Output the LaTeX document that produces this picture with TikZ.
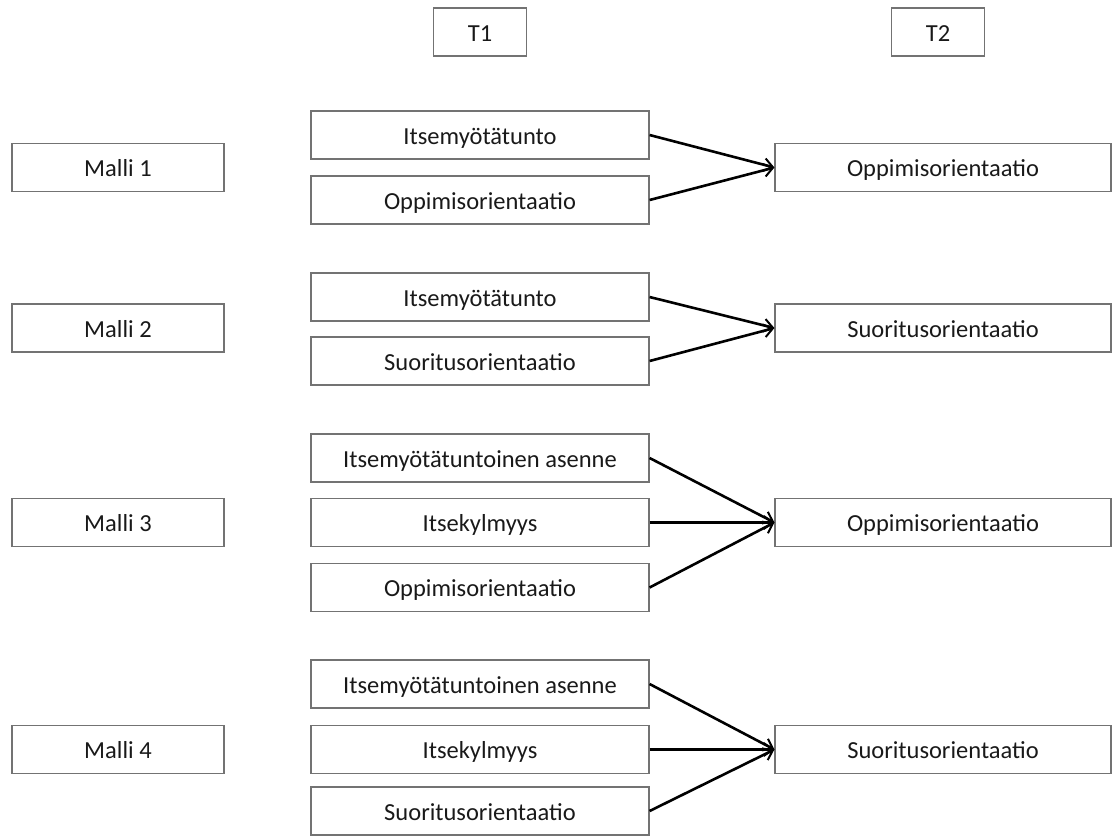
\documentclass[tikz,border=0pt]{standalone}
\usepackage{fontspec}
\setmainfont{Carlito}
\usetikzlibrary{arrows.meta}

\begin{document}
\begin{tikzpicture}[x=1pt, y=-1pt,
    box/.style={draw=black!55, line width=1.2pt, rectangle, minimum height=48pt, inner sep=0pt, align=center, font=\fontsize{24.5}{28}\selectfont, text=black!90, text height=19pt, text depth=1pt},
    model/.style={box, minimum width=212pt},
    pred/.style={box, minimum width=338pt},
    outc/.style={box, minimum width=336pt},
    time/.style={box, minimum width=93pt},
    arrow/.style={-{Straight Barb[length=9pt, width=13pt, line width=2pt]}, line width=2.6pt, black}
]
\useasboundingbox (0,0) rectangle (1113,836);

% time points
\node[time] (t1) at (480,32) {T1};
\node[time] (t2) at (938,32) {T2};

% Malli 1
\node[model] (m1) at (118,167.5) {Malli 1};
\node[pred] (m1a) at (480,135) {Itsemyötätunto};
\node[pred] (m1b) at (480,200) {Oppimisorientaatio};
\node[outc] (m1y) at (943,167.5) {Oppimisorientaatio};

% Malli 2
\node[model] (m2) at (118,328) {Malli 2};
\node[pred] (m2a) at (480,297) {Itsemyötätunto};
\node[pred] (m2b) at (480,361) {Suoritusorientaatio};
\node[outc] (m2y) at (943,328) {Suoritusorientaatio};

% Malli 3
\node[model] (m3) at (118,522.5) {Malli 3};
\node[pred] (m3a) at (480,458) {Itsemyötätuntoinen asenne};
\node[pred] (m3b) at (480,522.5) {Itsekylmyys};
\node[pred] (m3c) at (480,587.5) {Oppimisorientaatio};
\node[outc] (m3y) at (943,522.5) {Oppimisorientaatio};

% Malli 4
\node[model] (m4) at (118,749.5) {Malli 4};
\node[pred] (m4a) at (480,684) {Itsemyötätuntoinen asenne};
\node[pred] (m4b) at (480,749.5) {Itsekylmyys};
\node[pred] (m4c) at (480,811) {Suoritusorientaatio};
\node[outc] (m4y) at (943,749.5) {Suoritusorientaatio};

\draw[arrow] (m1a.east) -- (m1y.west);
\draw[arrow] (m1b.east) -- (m1y.west);
\draw[arrow] (m2a.east) -- (m2y.west);
\draw[arrow] (m2b.east) -- (m2y.west);
\draw[arrow] (m3a.east) -- (m3y.west);
\draw[arrow] (m3b.east) -- (m3y.west);
\draw[arrow] (m3c.east) -- (m3y.west);
\draw[arrow] (m4a.east) -- (m4y.west);
\draw[arrow] (m4b.east) -- (m4y.west);
\draw[arrow] (m4c.east) -- (m4y.west);
\end{tikzpicture}
\end{document}
